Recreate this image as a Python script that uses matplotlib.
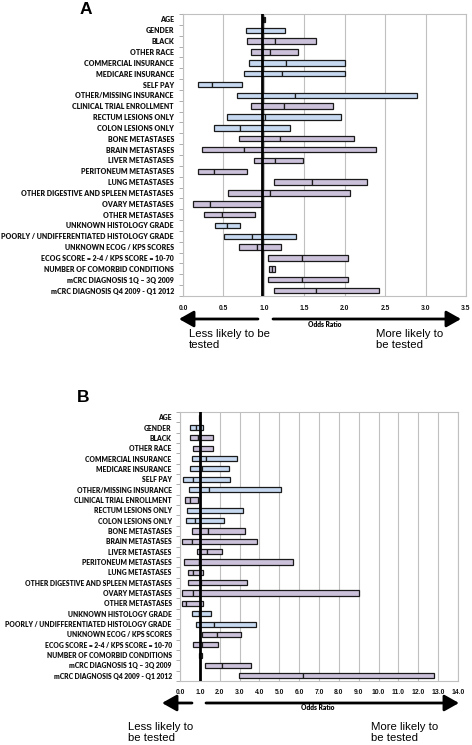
import matplotlib
matplotlib.use("Agg")
import matplotlib.pyplot as plt
from matplotlib.patches import FancyArrowPatch
import numpy as np

labels = ["AGE", "GENDER", "BLACK", "OTHER RACE", "COMMERCIAL INSURANCE",
          "MEDICARE INSURANCE", "SELF PAY", "OTHER/MISSING INSURANCE",
          "CLINICAL TRIAL ENROLLMENT", "RECTUM LESIONS ONLY", "COLON LESIONS ONLY",
          "BONE METASTASES", "BRAIN METASTASES", "LIVER METASTASES",
          "PERITONEUM METASTASES", "LUNG METASTASES",
          "OTHER DIGESTIVE AND SPLEEN METASTASES", "OVARY METASTASES",
          "OTHER METASTASES", "UNKNOWN HISTOLOGY GRADE",
          "POORLY / UNDIFFERENTIATED HISTOLOGY GRADE", "UNKNOWN ECOG / KPS SCORES",
          "ECOG SCORE = 2-4 / KPS SCORE = 10-70", "NUMBER OF COMORBID CONDITIONS",
          "mCRC DIAGNOSIS 1Q \u2013 3Q 2009", "mCRC DIAGNOSIS Q4 2009 - Q1 2012"]

groups = ["age", "blue", "purple", "purple", "blue", "blue", "blue", "blue",
          "purple", "blue", "blue", "purple", "purple", "purple", "purple",
          "purple", "purple", "purple", "purple", "blue", "blue", "purple",
          "purple", "purple", "purple", "purple"]

# Panel A: lower CI, odds ratio, upper CI
a_low = [0.99, 0.78, 0.79, 0.84, 0.82, 0.75, 0.18, 0.67, 0.84, 0.54, 0.38,
         0.69, 0.24, 0.88, 0.19, 1.12, 0.56, 0.12, 0.26, 0.40, 0.51, 0.69,
         1.05, 1.06, 1.05, 1.12]
a_or = [1.00, 0.99, 1.14, 1.08, 1.28, 1.22, 0.36, 1.39, 1.25, 1.02, 0.71,
        1.20, 0.75, 1.14, 0.38, 1.59, 1.07, 0.34, 0.48, 0.54, 0.85, 0.91,
        1.47, 1.10, 1.47, 1.65]
a_high = [1.01, 1.26, 1.64, 1.42, 2.00, 2.00, 0.73, 2.89, 1.86, 1.95, 1.32,
          2.11, 2.39, 1.49, 0.79, 2.27, 2.07, 0.98, 0.89, 0.70, 1.40, 1.21,
          2.04, 1.14, 2.04, 2.43]

# Panel B: lower CI, odds ratio, upper CI
b_low = [0.97, 0.51, 0.52, 0.66, 0.62, 0.49, 0.17, 0.44, 0.24, 0.35, 0.29,
         0.59, 0.12, 0.84, 0.19, 0.39, 0.39, 0.08, 0.08, 0.62, 0.79, 1.13,
         0.66, 0.96, 1.26, 2.96]
b_or = [1.00, 0.81, 0.93, 1.00, 1.33, 1.09, 0.64, 1.45, 0.49, 1.00, 0.77,
        1.40, 0.61, 1.36, 0.98, 0.66, 1.08, 0.67, 0.32, 0.98, 1.72, 1.85,
        1.09, 1.03, 2.12, 6.20]
b_high = [1.03, 1.18, 1.67, 1.67, 2.86, 2.49, 2.53, 5.07, 0.89, 3.16, 2.21,
          3.27, 3.89, 2.12, 5.67, 1.14, 3.37, 8.99, 1.14, 1.55, 3.84, 3.06,
          1.92, 1.09, 3.59, 12.81]

a_ticks = [0.0, 0.5, 1.0, 1.5, 2.0, 2.5, 3.0, 3.5]
b_ticks = [float(v) for v in range(0, 15)]

color_map = {"blue": "#c6d9f1", "purple": "#ccc1da", "age": "#000000"}

W, H = 472, 745
fig = plt.figure(figsize=(W / 100, H / 100), dpi=100)

LABEL_FONT = ["Lato", "DejaVu Sans"]
ARIAL = ["Liberation Sans", "DejaVu Sans"]
LW = 800


def fx(px):
    return px / W


def fy(py):
    return 1 - py / H


def panel(rect_px, low, orv, high, ticks, xmax, refx, fs, pad):
    l, t, r, b = rect_px
    ax = fig.add_axes([fx(l), fy(b), fx(r) - fx(l), fy(t) - fy(b)])
    y = np.arange(len(labels))
    low = np.array(low)
    orv = np.array(orv)
    high = np.array(high)
    cols = [color_map[g] for g in groups]
    ax.barh(y, orv - low, left=low, height=0.5, color=cols,
            edgecolor="#1a1a1a", linewidth=0.9, zorder=3)
    ax.barh(y, high - orv, left=orv, height=0.5, color=cols,
            edgecolor="#1a1a1a", linewidth=0.9, zorder=3)
    ax.axvline(refx, color="black", lw=2.0, zorder=4)
    ax.set_xlim(0, xmax)
    ax.set_ylim(len(labels) - 0.5, -0.5)
    ax.set_xticks(ticks)
    ax.set_xticklabels([])
    ax.tick_params(axis="x", length=0)
    ax.grid(axis="x", color="#c0c0c0", lw=0.8, zorder=0)
    ax.set_yticks(y)
    ax.set_yticklabels(labels, fontsize=fs, fontweight=LW,
                       family=LABEL_FONT, color="#111111")
    ax.set_yticks(np.arange(-0.5, len(labels), 1), minor=True)
    ax.tick_params(axis="y", which="major", length=0, pad=pad)
    ax.tick_params(axis="y", which="minor", length=3, color="#a0a0a0",
                   width=0.6)
    for s in ax.spines.values():
        s.set_color("#c0c0c0")
        s.set_linewidth(0.8)
    return ax


# Panel A
axA = panel((183, 14, 466, 296), a_low, a_or, a_high, a_ticks, 3.5, 0.98, 5.0, 6.5)
for v in a_ticks:
    xp = 183 + v / 3.5 * (466 - 183)
    fig.text(fx(xp), fy(308), "%.1f" % v, ha="center", va="center",
             fontsize=4.9, fontweight="bold", family=ARIAL, color="#111111")

# Panel B
axB = panel((180, 412, 458, 681), b_low, b_or, b_high, b_ticks, 14.0, 1.0, 4.85, 6.0)
for v in b_ticks:
    xp = 180 + v / 14.0 * (458 - 180)
    fig.text(fx(xp), fy(693), "%.1f" % v, ha="center", va="center",
             fontsize=4.9, fontweight="bold", family=ARIAL, color="#111111")


def arrow(x0, x1, y):
    a = FancyArrowPatch((fx(x0), fy(y)), (fx(x1), fy(y)),
                        transform=fig.transFigure,
                        arrowstyle="-|>,head_length=0.8,head_width=0.45",
                        mutation_scale=11, lw=2.0, color="black",
                        shrinkA=0, shrinkB=0)
    fig.add_artist(a)


arrow(258, 179, 319)
arrow(273, 461, 319)
fig.text(fx(325), fy(325), "Odds Ratio", ha="center", va="center",
         fontsize=4.8, fontweight=LW, family=LABEL_FONT)
fig.text(fx(189), fy(329), "Less likely to be\ntested", ha="left", va="top",
         fontsize=8.2, family=ARIAL, linespacing=1.1)
fig.text(fx(376), fy(329), "More likely to\nbe tested", ha="left", va="top",
         fontsize=8.2, family=ARIAL, linespacing=1.1)

arrow(192, 162, 703)
arrow(206, 459, 703)
fig.text(fx(318), fy(708), "Odds Ratio", ha="center", va="center",
         fontsize=4.8, fontweight=LW, family=LABEL_FONT)
fig.text(fx(128), fy(722), "Less likely to\nbe tested", ha="left", va="top",
         fontsize=8.2, family=ARIAL, linespacing=1.1)
fig.text(fx(371), fy(722), "More likely to\nbe tested", ha="left", va="top",
         fontsize=8.2, family=ARIAL, linespacing=1.1)

fig.text(fx(86), fy(9), "A", ha="center", va="center", fontsize=12.5,
         fontweight="bold", family=ARIAL)
fig.text(fx(83), fy(397), "B", ha="center", va="center", fontsize=12.5,
         fontweight="bold", family=ARIAL)

fig.savefig("out.png", dpi=100)
